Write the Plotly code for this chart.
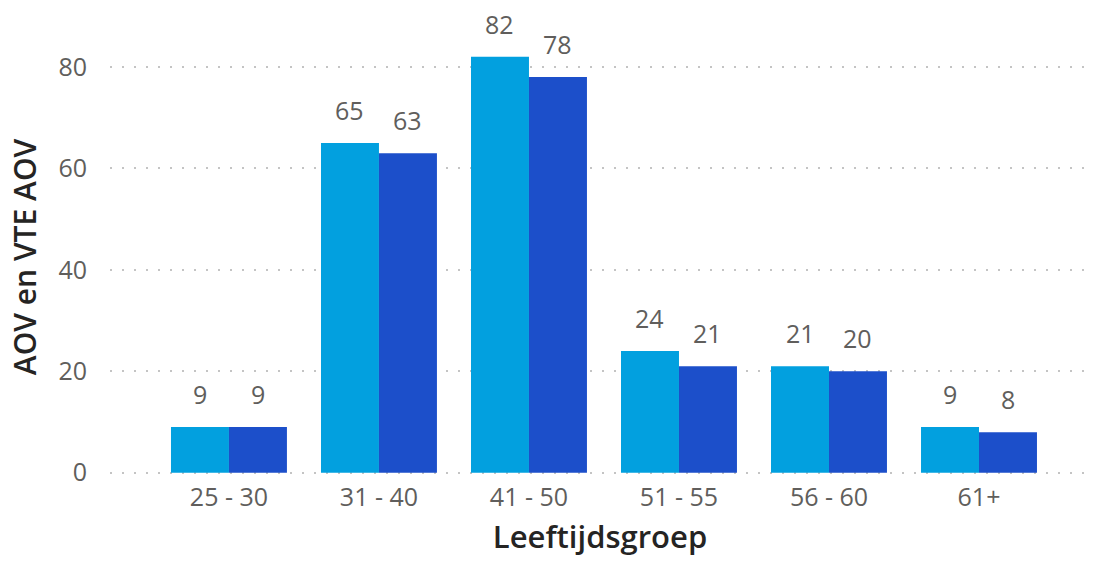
import plotly.graph_objects as go

# Age groups and the two counts per group
age_groups = ["25 - 30", "31 - 40", "41 - 50", "51 - 55", "56 - 60", "61+"]
aov = [9, 65, 82, 24, 21, 9]
vte_aov = [9, 63, 78, 21, 20, 8]
y_ticks = [0, 20, 40, 60, 80]

light_blue = "#02A0DF"
dark_blue = "#1C4FCA"
tick_font = dict(family="Segoe UI, Open Sans, Noto Sans, sans-serif", size=25, color="#605E5C")
title_font = dict(family="Open Sans, Noto Sans, sans-serif", size=30, color="#252423", weight=600)

bar_gap = 0.227
half_bar = (1 - bar_gap) / 4  # centre offset of each bar inside its group

fig = go.Figure()
series = [("AOV", aov, light_blue, -half_bar), ("VTE AOV", vte_aov, dark_blue, half_bar)]
for name, vals, col, _ in series:
    fig.add_trace(go.Bar(
        x=age_groups, y=vals, name=name,
        marker=dict(color=col, line=dict(width=0)),
        hoverinfo="x+y+name",
    ))

# value labels above each bar
annotations = []
for name, vals, col, shift in series:
    for i, v in enumerate(vals):
        annotations.append(dict(
            x=i + shift, y=v, xref="x", yref="y", text=str(v),
            showarrow=False, yanchor="middle", yshift=33, font=tick_font,
        ))

fig.update_layout(
    width=1096, height=561,
    margin=dict(l=110, r=6, t=40, b=87),
    paper_bgcolor="white", plot_bgcolor="white",
    barmode="group", bargap=bar_gap, bargroupgap=0,
    showlegend=False,
    font=tick_font,
    annotations=annotations,
    xaxis=dict(
        range=[-0.793, 5.74], showgrid=False, showline=False, ticks="",
        tickfont=tick_font, ticklabelstandoff=6,
        title=dict(text="Leeftijdsgroep", font=dict(title_font, size=31), standoff=14),
    ),
    yaxis=dict(
        range=[-0.25, 85.3], tickvals=y_ticks, showline=False, ticks="",
        showgrid=True, gridcolor="#C4C4C4", griddash="2px,10px", gridwidth=2,
        zeroline=False, tickfont=tick_font, ticklabelstandoff=22,
        title=dict(text="AOV en VTE AOV", font=title_font, standoff=12),
    ),
)

fig.write_html("out.html")
